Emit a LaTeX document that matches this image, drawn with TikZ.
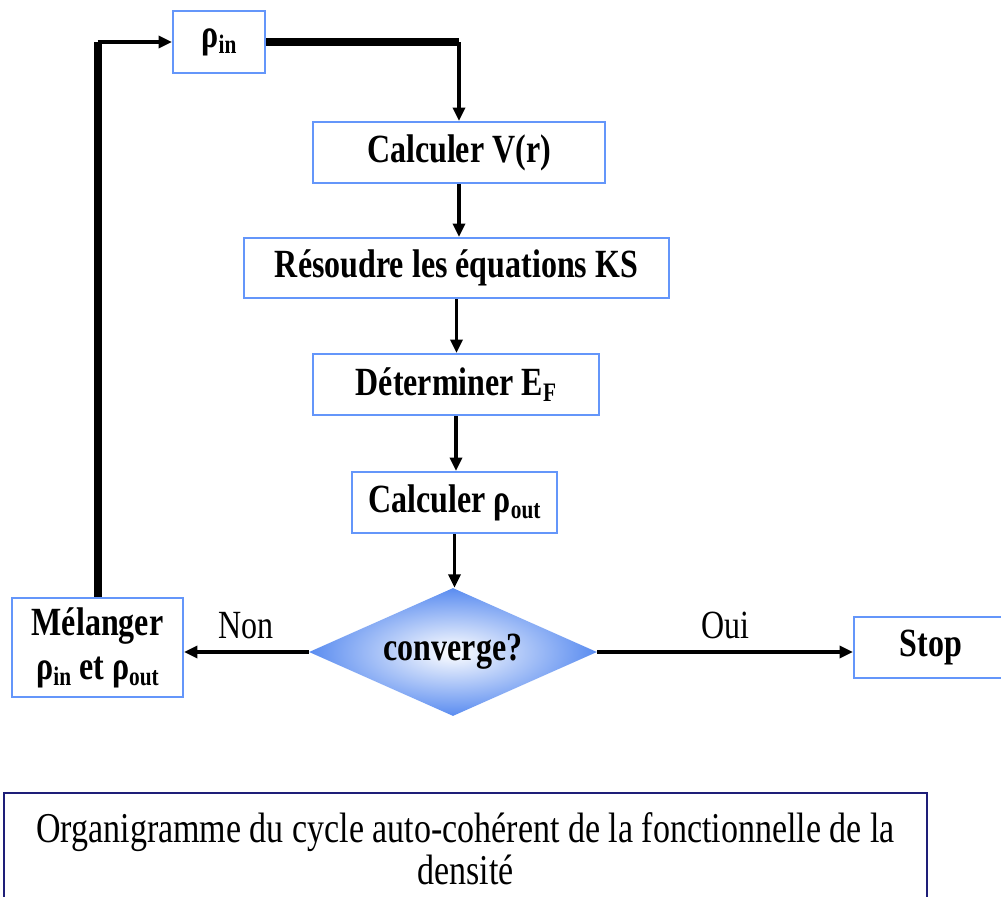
\documentclass[tikz,border=0pt]{standalone}
\usepackage{fontspec}
\usepackage{graphicx}
\setmainfont{Liberation Serif}
\usetikzlibrary{shapes.geometric,arrows.meta}
\definecolor{boxblue}{RGB}{100,150,250}
\definecolor{diablue}{RGB}{90,140,240}
\definecolor{navy}{RGB}{30,30,120}
\newcommand\sbs[1]{\raisebox{-4pt}{\fontsize{16}{16}\selectfont #1}}
\newcommand\tall[1]{\scalebox{1}[1.25]{#1}}
\tikzset{
  stepbox/.style={draw=boxblue, line width=1.6pt, fill=white, inner sep=0pt,
    font=\fontsize{24}{28}\selectfont\bfseries, align=center},
  arr/.style={line width=2.4pt, -{Triangle[length=10pt,width=9pt]}},
  thickline/.style={line width=6pt, line cap=square},
  lbl/.style={font=\fontsize{24}{28}\selectfont, inner sep=0pt}
}
\begin{document}
\begin{tikzpicture}[x=0.75pt,y=-0.75pt]
\useasboundingbox (0,0) rectangle (1001,897);
\node[stepbox, minimum width=69pt, minimum height=46.5pt] (rin) at (219,42) {\tall{ρ\sbs{in}}};
\node[stepbox, minimum width=219pt, minimum height=45.75pt] (cv) at (459,152.5) {\tall{Calculer V(r)}};
\node[stepbox, minimum width=318.75pt, minimum height=45pt] (ks) at (456.5,268) {\tall{Résoudre les équations KS}};
\node[stepbox, minimum width=214.5pt, minimum height=45.75pt] (ef) at (456,384.5) {\tall{Déterminer E\sbs{F}}};
\node[stepbox, minimum width=153.75pt, minimum height=45.75pt] (ro) at (454.5,502.5) {\tall{Calculer ρ\sbs{out}}};
\node[diamond, aspect=2.25, minimum width=216pt, minimum height=96pt, inner sep=0pt,
  shading=radial, inner color=white, outer color=diablue,
  font=\fontsize{24}{28}\selectfont\bfseries] (conv) at (453,652) {\tall{converge?}};
\node[stepbox, minimum width=128.25pt, minimum height=74.25pt] (mel) at (97.5,647.5)
  {\tall{Mélanger}\\[5pt]\tall{ρ\sbs{in} et ρ\sbs{out}}};
\node[stepbox, minimum width=115.5pt, minimum height=45.75pt] (stop) at (931,647.5) {\tall{Stop}};
\node[draw=navy, line width=2pt, minimum width=692.25pt, minimum height=84pt, inner sep=0pt,
  align=center, font=\fontsize{25.5}{31.5}\selectfont] (cap) at (465.5,849)
  {\tall{Organigramme du cycle auto-cohérent de la fonctionnelle de la}\\\tall{densité}};
% connectors
\draw[thickline] (rin.east) -- (rin.east -| cv.north);
\draw[arr] (rin.east -| cv.north) -- (cv.north);
\draw[arr] (cv.south) -- (cv.south |- ks.north);
\draw[arr] (ks.south) -- (ks.south |- ef.north);
\draw[arr] (ef.south) -- (ef.south |- ro.north);
\draw[arr] (ro.south) -- (ro.south |- conv.north);
\draw[arr] (conv.west) -- node[lbl, above=9pt]{\tall{Non}} (conv.west -| mel.east);
\draw[arr] (conv.east) -- node[lbl, above=9pt]{\tall{Oui}} (conv.east -| stop.west);
\draw[thickline] (mel.north) -- (mel.north |- rin.west);
\draw[arr] (mel.north |- rin.west) -- (rin.west);
\end{tikzpicture}
\end{document}
